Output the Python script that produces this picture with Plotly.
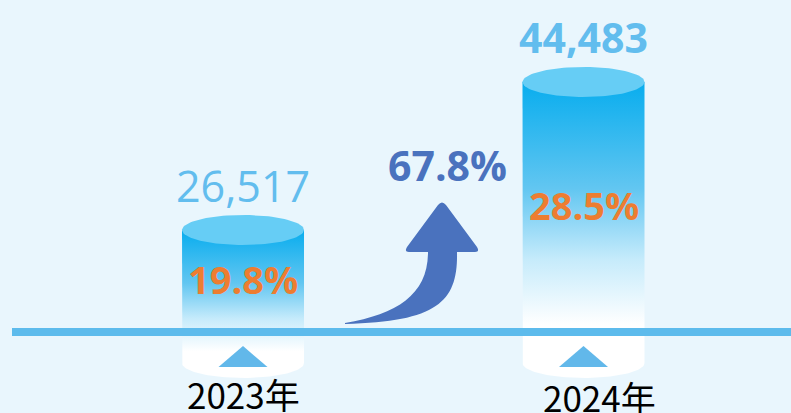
import numpy as np
import plotly.graph_objects as go

# ---------------- data ----------------
categories = ["2023年", "2024年"]
values = [26517, 44483]
value_labels = ["26,517", "44,483"]
shares = ["19.8%", "28.5%"]
growth_label = "67.8%"

# ---------------- layout constants ----------------
W, H = 791, 413
BG = "#e9f6fd"
X_RANGE = [-0.7137, 1.6094]
Y_RANGE = [4300, 54440]

BLUE_TXT = "#62bdee"
ORANGE = "#ed7d31"
ARROW_BLUE = "#4a72be"
CAP = "#66cdf5"
TRI = "#62b8ea"
LINE = "#5dbbec"


def x_ppu():
    return W / (X_RANGE[1] - X_RANGE[0])


def y_upp():
    return (Y_RANGE[1] - Y_RANGE[0]) / H


def py_to_y(py):
    return Y_RANGE[1] - py * y_upp()


def px_paper(px):
    return px / W


def py_paper(py):
    return 1 - py / H


RX = 61 / x_ppu()
RY = 15 * y_upp()
BASE_PX = 332
BASE_Y = py_to_y(BASE_PX)
BOTTOM_Y = py_to_y(363)

fig = go.Figure()

t_arc = np.linspace(np.pi, 0, 60)
t_full = np.linspace(0, 2 * np.pi, 100)

for i, v in enumerate(values):
    xi = i
    # body
    bx = [xi - RX, xi - RX] + list(xi + RX * np.cos(t_arc)) + [xi + RX, xi - RX]
    by = [v, BOTTOM_Y] + list(BOTTOM_Y - RY * np.sin(t_arc)) + [v, v]
    fig.add_trace(go.Scatter(
        x=bx, y=by, mode="lines", fill="toself", line=dict(width=0),
        fillgradient=dict(
            type="vertical",
            start=BOTTOM_Y - RY, stop=v,
            colorscale=[[0, "#ffffff"], [0.18, "#ffffff"], [0.40, "#c6ebfb"],
                        [0.64, "#62c6f1"], [1, "#08adee"]],
        ),
        hoverinfo="skip", showlegend=False,
    ))
    # top cap
    fig.add_trace(go.Scatter(
        x=list(xi + RX * np.cos(t_full)), y=list(v + RY * np.sin(t_full)),
        mode="lines", fill="toself", fillcolor=CAP, line=dict(width=0),
        hoverinfo="skip", showlegend=False,
    ))
    # small triangle below the baseline
    hw = 24.5 / x_ppu()
    fig.add_trace(go.Scatter(
        x=[xi - hw, xi, xi + hw, xi - hw],
        y=[py_to_y(367), py_to_y(346), py_to_y(367), py_to_y(367)],
        mode="lines", fill="toself", fillcolor=TRI, line=dict(width=0),
        hoverinfo="skip", showlegend=False,
    ))

annotations = []
font_fam = "Open Sans, Noto Sans, sans-serif"
cjk = "Noto Sans CJK SC, sans-serif"
for i, v in enumerate(values):
    bold = i == 1
    annotations.append(dict(
        x=i, y=v, yshift=45, text=f"<b>{value_labels[i]}</b>" if bold else value_labels[i],
        showarrow=False, xanchor="center", yanchor="middle",
        font=dict(family=font_fam, size=41 if bold else 43, color=BLUE_TXT),
    ))
    annotations.append(dict(
        x=i, y=(v + BASE_Y) / 2, yshift=2, text=f"<b>{shares[i]}</b>",
        showarrow=False, xanchor="center", yanchor="middle",
        font=dict(family=font_fam, size=38, color=ORANGE),
    ))
    annotations.append(dict(
        x=i, y=py_to_y(393 if i == 0 else 396), xshift=0 if i == 0 else 16,
        text=categories[i],
        showarrow=False, xanchor="center", yanchor="middle",
        font=dict(family=cjk, size=35, color="#000000"),
    ))

annotations.append(dict(
    x=px_paper(447), y=py_paper(165), xref="paper", yref="paper",
    text=f"<b>{growth_label}</b>", showarrow=False, xanchor="center", yanchor="middle",
    font=dict(family=font_fam, size=41, color=ARROW_BLUE),
))


def P(px, py):
    return f"{px_paper(px):.5f},{py_paper(py):.5f}"


arrow_path = (
    f"M {P(345, 323)} "
    f"C {P(398, 314)} {P(428, 294)} {P(428, 252)} "
    f"L {P(409, 252)} "
    f"Q {P(404, 252)} {P(407, 247)} "
    f"L {P(438, 205)} "
    f"Q {P(442, 200)} {P(446, 205)} "
    f"L {P(477, 247)} "
    f"Q {P(480, 252)} {P(475, 252)} "
    f"L {P(457, 252)} "
    f"C {P(458, 300)} {P(440, 322)} {P(345, 324)} Z"
)

shapes = [
    dict(type="line", xref="paper", yref="paper",
         x0=px_paper(12), x1=1, y0=py_paper(BASE_PX), y1=py_paper(BASE_PX),
         line=dict(color=LINE, width=8), layer="above"),
    dict(type="path", xref="paper", yref="paper", path=arrow_path,
         fillcolor=ARROW_BLUE, line=dict(width=0), layer="above"),
]

fig.update_layout(
    width=W, height=H,
    margin=dict(l=0, r=0, t=0, b=0),
    paper_bgcolor=BG, plot_bgcolor=BG,
    xaxis=dict(range=X_RANGE, visible=False, fixedrange=True),
    yaxis=dict(range=Y_RANGE, visible=False, fixedrange=True),
    annotations=annotations,
    shapes=shapes,
    showlegend=False,
)

fig.write_html(
    "out.html",
    config={"displayModeBar": False},
    post_script="document.body.style.margin='0px';document.body.style.overflow='hidden';document.body.style.background='#e9f6fd';",
)
